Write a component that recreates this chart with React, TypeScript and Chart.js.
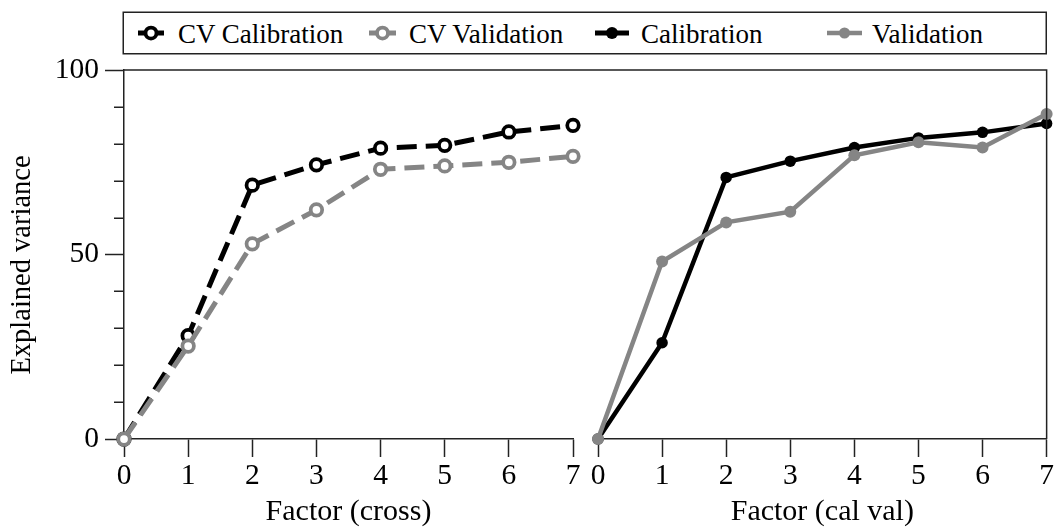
import { useEffect, useRef } from "react";
import { Chart, registerables } from "chart.js";

Chart.register(...registerables);

// Factor numbers shared by both panels
const factors = ["0", "1", "2", "3", "4", "5", "6", "7"];

// Left panel: cross-validation results
const cvCalibration = [0, 28.0, 68.8, 74.3, 78.8, 79.6, 83.2, 85.0];
const cvValidation = [0, 25.2, 52.9, 62.1, 73.1, 74.0, 75.0, 76.6];

// Right panel: calibration / validation results
const calibration = [0, 26.1, 70.9, 75.3, 79.0, 81.6, 83.1, 85.5];
const validation = [0, 48.1, 58.7, 61.6, 76.9, 80.4, 79.0, 88.1];

// Labelled y ticks (minor ticks every 10 in between)
const yTickLabels = [0, 50, 100];

const FONT = "'Liberation Serif', 'Times New Roman', serif";
const AXIS = "#222";
const BLACK = "#000";
const GRAY = "#858585";

const W = 1056;
const H = 527;
const SPLIT = 585;
const TOP = 70;
const X_AXIS_H = 88;

Chart.defaults.font.family = FONT;
Chart.defaults.color = "#000";

const xAxis = (title: string) => ({
  type: "category" as const,
  offset: false,
  grid: {
    drawOnChartArea: false,
    drawTicks: true,
    tickLength: 18,
    tickColor: AXIS,
    tickWidth: 1.5,
  },
  border: { display: true, color: AXIS, width: 1.5 },
  ticks: {
    padding: 2,
    font: { size: 29.5 },
    color: "#000",
    maxRotation: 0,
    autoSkip: false,
  },
  title: {
    display: true,
    text: title,
    font: { size: 30, lineHeight: 1 },
    padding: { top: 0, bottom: 0 },
    color: "#000",
  },
  afterFit: (s: any) => {
    s.height = X_AXIS_H;
  },
});

// Minor y ticks, the y-axis title and the top frame line on the left panel
const leftDecor = {
  id: "leftDecor",
  afterDraw(chart: any) {
    const { ctx, chartArea, scales } = chart;
    const y = scales.y;
    ctx.save();
    ctx.strokeStyle = AXIS;
    ctx.lineWidth = 1.5;
    ctx.beginPath();
    for (let v = 10; v < 100; v += 10) {
      if (yTickLabels.includes(v)) continue;
      const py = Math.round(y.getPixelForValue(v)) + 0.25;
      ctx.moveTo(chartArea.left - 10, py);
      ctx.lineTo(chartArea.left, py);
    }
    ctx.moveTo(chartArea.left, chartArea.top);
    ctx.lineTo(chart.width, chartArea.top);
    ctx.stroke();

    ctx.fillStyle = "#000";
    ctx.font = `28.5px ${FONT}`;
    ctx.textAlign = "center";
    ctx.textBaseline = "middle";
    ctx.translate(22.5, 265);
    ctx.rotate(-Math.PI / 2);
    ctx.fillText("Explained variance", 0, 0);
    ctx.restore();
  },
};

// Top and right frame lines on the right panel
const rightDecor = {
  id: "rightDecor",
  afterDraw(chart: any) {
    const { ctx, chartArea } = chart;
    ctx.save();
    ctx.strokeStyle = AXIS;
    ctx.lineWidth = 1.5;
    ctx.beginPath();
    ctx.moveTo(0, chartArea.top);
    ctx.lineTo(chartArea.right, chartArea.top);
    ctx.lineTo(chartArea.right, chartArea.bottom);
    ctx.stroke();
    ctx.restore();
  },
};

const basePlugins = {
  legend: { display: false },
  tooltip: { enabled: false },
};

const dashedSeries = (label: string, data: number[], color: string) => ({
  label,
  data,
  borderColor: color,
  borderWidth: 5,
  borderDash: [20, 9],
  pointRadius: 5.75,
  pointBorderWidth: 3.75,
  pointBackgroundColor: "#fff",
  pointBorderColor: color,
  clip: false,
  tension: 0,
});

const solidSeries = (label: string, data: number[], color: string, width: number, radius: number) => ({
  label,
  data,
  borderColor: color,
  borderWidth: width,
  pointRadius: radius,
  pointBorderWidth: 0,
  pointBackgroundColor: color,
  clip: false,
  tension: 0,
});

export default function App() {
  const leftRef = useRef<HTMLCanvasElement>(null);
  const rightRef = useRef<HTMLCanvasElement>(null);

  useEffect(() => {
    if (!leftRef.current || !rightRef.current) return;

    const left = new Chart(leftRef.current, {
      type: "line",
      data: {
        labels: factors,
        datasets: [
          dashedSeries("CV Validation", cvValidation, GRAY),
          dashedSeries("CV Calibration", cvCalibration, BLACK),
        ],
      },
      options: {
        animation: false,
        responsive: false,
        maintainAspectRatio: false,
        events: [],
        layout: { padding: { left: 0, right: SPLIT - 573, top: TOP, bottom: 0 } },
        plugins: basePlugins,
        scales: {
          x: xAxis("Factor (cross)"),
          y: {
            min: 0,
            max: 100,
            grid: {
              drawOnChartArea: false,
              drawTicks: true,
              tickLength: 19,
              tickWidth: 1.5,
              tickColor: (c: any) =>
                c.tick && yTickLabels.includes(c.tick.value) ? AXIS : "rgba(0,0,0,0)",
            },
            border: { display: true, color: AXIS, width: 1.5 },
            ticks: {
              stepSize: 10,
              padding: 6,
              font: { size: 29.5 },
              color: "#000",
              autoSkip: false,
              callback: (v: any) => (yTickLabels.includes(Number(v)) ? String(v) : ""),
            },
            afterFit: (s: any) => {
              s.width = 124;
            },
          },
        },
      } as any,
      plugins: [leftDecor],
    });

    const right = new Chart(rightRef.current, {
      type: "line",
      data: {
        labels: factors,
        datasets: [
          solidSeries("Validation", validation, GRAY, 4.5, 6),
          solidSeries("Calibration", calibration, BLACK, 4.5, 5.75),
        ],
      },
      options: {
        animation: false,
        responsive: false,
        maintainAspectRatio: false,
        events: [],
        layout: { padding: { left: 598 - SPLIT, right: W - 1047, top: TOP, bottom: 0 } },
        plugins: basePlugins,
        scales: {
          x: xAxis("Factor (cal val)"),
          y: { display: false, min: 0, max: 100 },
        },
      } as any,
      plugins: [rightDecor],
    });

    return () => {
      left.destroy();
      right.destroy();
    };
  }, []);

  const legendText = { fontFamily: FONT, fontSize: 27, fill: "#000" } as const;

  return (
    <div
      style={{
        position: "fixed",
        left: 0,
        top: 0,
        width: W,
        height: H,
        background: "#fff",
        overflow: "hidden",
      }}
    >
      <canvas
        ref={leftRef}
        width={SPLIT}
        height={H}
        style={{ position: "absolute", left: 0, top: 0, width: SPLIT, height: H }}
      />
      <canvas
        ref={rightRef}
        width={W - SPLIT}
        height={H}
        style={{ position: "absolute", left: SPLIT, top: 0, width: W - SPLIT, height: H }}
      />
      <svg
        width={W}
        height={60}
        style={{ position: "absolute", left: 0, top: 0, pointerEvents: "none" }}
      >
        <rect x={123.25} y={12.25} width={923} height={41.5} fill="#fff" stroke={AXIS} strokeWidth={1.5} />
        <line x1={138} x2={164} y1={33} y2={33} stroke={BLACK} strokeWidth={5} />
        <circle cx={151} cy={33} r={5.5} fill="#fff" stroke={BLACK} strokeWidth={3.75} />
        <text x={178} y={43} style={legendText}>CV Calibration</text>

        <line x1={369} x2={396} y1={33} y2={33} stroke={GRAY} strokeWidth={5} />
        <circle cx={382.5} cy={33} r={5.5} fill="#fff" stroke={GRAY} strokeWidth={3.75} />
        <text x={409} y={43} style={legendText}>CV Validation</text>

        <line x1={595} x2={629} y1={33} y2={33} stroke={BLACK} strokeWidth={5} />
        <circle cx={612} cy={33} r={6} fill={BLACK} />
        <text x={641} y={43} style={legendText}>Calibration</text>

        <line x1={827} x2={862} y1={33} y2={33} stroke={GRAY} strokeWidth={4.5} />
        <circle cx={844.5} cy={33} r={5.5} fill={GRAY} />
        <text x={872} y={43} style={legendText}>Validation</text>
      </svg>
    </div>
  );
}
